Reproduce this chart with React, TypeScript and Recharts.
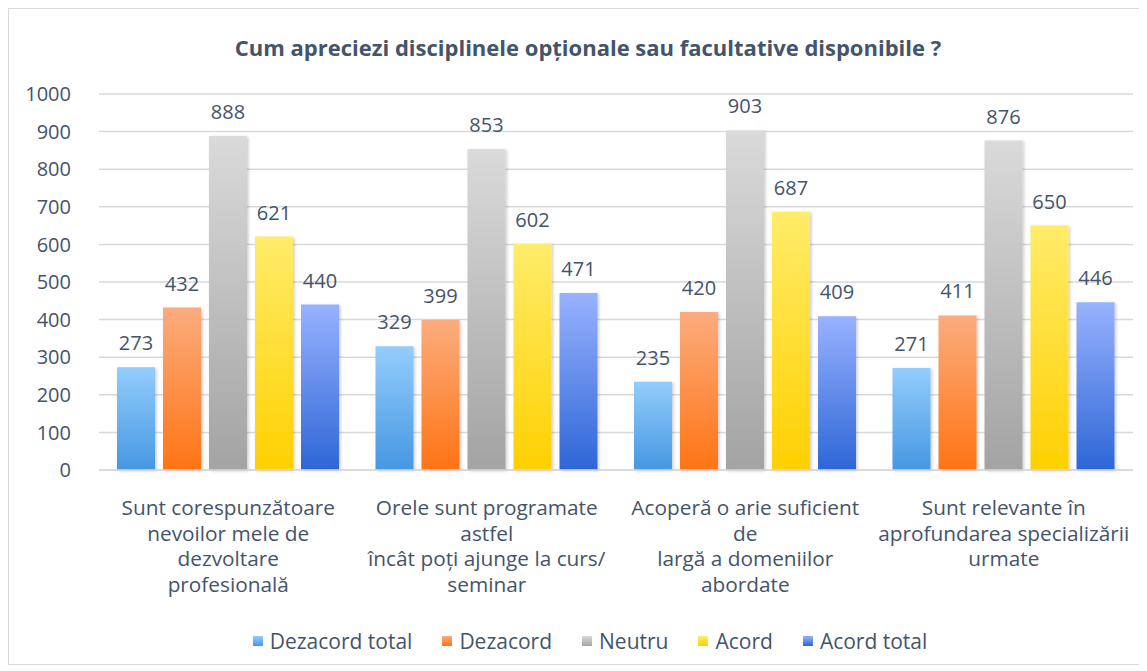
import { Bar, BarChart, CartesianGrid, LabelList, Legend, XAxis, YAxis } from "recharts";

const categories = [
  "Sunt corespunzătoare\nnevoilor mele de\ndezvoltare\nprofesională",
  "Orele sunt programate\nastfel\nîncât poți ajunge la curs/\nseminar",
  "Acoperă o arie suficient\nde\nlargă a domeniilor\nabordate",
  "Sunt relevante în\naprofundarea specializării\nurmate",
];

const dezacordTotal = [273, 329, 235, 271];
const dezacord = [432, 399, 420, 411];
const neutru = [888, 853, 903, 876];
const acord = [621, 602, 687, 650];
const acordTotal = [440, 471, 409, 446];

const yTicks = [0, 100, 200, 300, 400, 500, 600, 700, 800, 900, 1000];

const series = [
  { key: "dt", name: "Dezacord total", top: "#93CDFC", bottom: "#4697E2" },
  { key: "d", name: "Dezacord", top: "#FBAC7E", bottom: "#FF7414" },
  { key: "n", name: "Neutru", top: "#DADADA", bottom: "#A3A3A3" },
  { key: "a", name: "Acord", top: "#FFEC6A", bottom: "#FFD000" },
  { key: "at", name: "Acord total", top: "#98B2FF", bottom: "#2D66D6" },
];

const data = categories.map((c, i) => ({
  cat: c,
  dt: dezacordTotal[i],
  d: dezacord[i],
  n: neutru[i],
  a: acord[i],
  at: acordTotal[i],
}));

const textColor = "#44546A";
const font = "'Open Sans', sans-serif";

function CategoryTick(props: any) {
  const { x, y, payload } = props;
  const lines = String(payload.value).split("\n");
  return (
    <text x={x} y={y + 37} textAnchor="middle" fill={textColor} fontSize={20.8} fontFamily={font}>
      {lines.map((l, i) => (
        <tspan key={i} x={x} dy={i === 0 ? 0 : 25.5}>
          {l}
        </tspan>
      ))}
    </text>
  );
}

function LegendContent() {
  return (
    <div style={{ display: "flex", justifyContent: "center", gap: 30, fontFamily: font, fontSize: 21, color: textColor }}>
      {series.map((s) => (
        <div key={s.key} style={{ display: "flex", alignItems: "center", gap: 7 }}>
          <span
            style={{
              width: 10,
              height: 10,
              display: "inline-block",
              background: `linear-gradient(${s.top}, ${s.bottom})`,
            }}
          />
          <span>{s.name}</span>
        </div>
      ))}
    </div>
  );
}

export default function App() {
  return (
    <div style={{ position: "relative", width: 1130, height: 655, border: "1px solid #D9D9D9", background: "#fff" }}>
      <div
        style={{
          position: "absolute",
          top: 23,
          left: 0,
          width: 1158,
          textAlign: "center",
          fontFamily: font,
          fontWeight: 700,
          fontSize: 22,
          color: textColor,
        }}
      >
        Cum apreciezi disciplinele opționale sau facultative disponibile ?
      </div>
      <BarChart
        width={1130}
        height={655}
        data={data}
        margin={{ top: 85, right: 6, bottom: 64, left: 0 }}
        barSize={38}
        barGap={8}
      >
        <defs>
          {series.map((s) => (
            <linearGradient key={s.key} id={`g-${s.key}`} x1="0" y1="0" x2="0" y2="1">
              <stop offset="0%" stopColor={s.top} />
              <stop offset="100%" stopColor={s.bottom} />
            </linearGradient>
          ))}
          <filter id="shadow" x="-20%" y="-5%" width="150%" height="115%">
            <feDropShadow dx="1.5" dy="1" stdDeviation="1.5" floodColor="#000" floodOpacity="0.2" />
          </filter>
        </defs>
        <CartesianGrid vertical={false} stroke="#D9D9D9" strokeWidth={1.5} />
        <XAxis
          dataKey="cat"
          height={130}
          interval={0}
          tickLine={false}
          axisLine={{ stroke: "#D9D9D9", strokeWidth: 1.5 }}
          tick={<CategoryTick />}
        />
        <YAxis
          width={90}
          domain={[0, 1000]}
          ticks={yTicks}
          tickLine={false}
          axisLine={false}
          tickMargin={22}
          tick={{ fill: textColor, fontSize: 20, fontFamily: font }}
        />
        <Legend
          verticalAlign="middle"
          align="center"
          layout="horizontal"
          wrapperStyle={{ top: 618, left: 16, width: 1130 }}
          content={<LegendContent />}
        />
        {series.map((s) => (
          <Bar
            key={s.key}
            dataKey={s.key}
            name={s.name}
            fill={`url(#g-${s.key})`}
            filter="url(#shadow)"
            isAnimationActive={false}
          >
            <LabelList
              dataKey={s.key}
              position="top"
              offset={17}
              fill={textColor}
              fontSize={20}
              fontFamily={font}
            />
          </Bar>
        ))}
      </BarChart>
    </div>
  );
}
